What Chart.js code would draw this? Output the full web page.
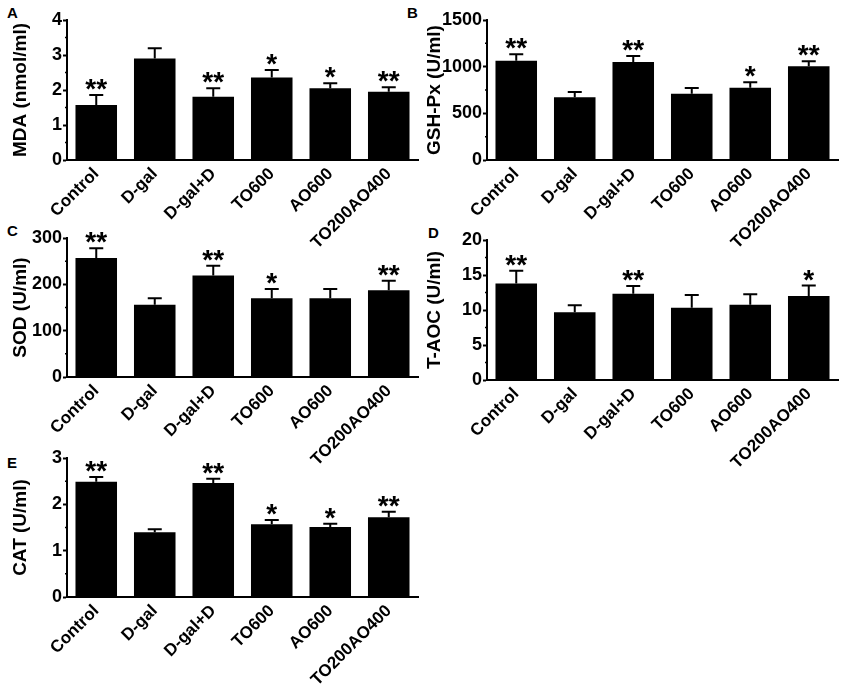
<!DOCTYPE html>
<html>
<head>
<meta charset="utf-8">
<script src="https://cdn.jsdelivr.net/npm/chart.js@4.4.1/dist/chart.umd.min.js"></script>
<style>
  body { margin: 0; background: #fff; width: 850px; height: 688px; position: relative; overflow: hidden; }
  canvas { position: absolute; }
  .lbl { position: absolute; font: bold 15px "Liberation Sans", Arial, sans-serif; color: #000; }
</style>
</head>
<body>
<div class="lbl" style="left:7px;top:4px">A</div>
<div class="lbl" style="left:407px;top:4px">B</div>
<div class="lbl" style="left:7px;top:222px">C</div>
<div class="lbl" style="left:428px;top:224px">D</div>
<div class="lbl" style="left:7px;top:454px">E</div>
<canvas id="cA"></canvas>
<canvas id="cB"></canvas>
<canvas id="cC"></canvas>
<canvas id="cD"></canvas>
<canvas id="cE"></canvas>
<script>
const GROUPS = ['Control', 'D-gal', 'D-gal+D', 'TO600', 'AO600', 'TO200AO400'];

// A: MDA
const MDA_MEAN = [1.57, 2.90, 1.81, 2.36, 2.05, 1.95];
const MDA_SEM = [0.29, 0.29, 0.24, 0.21, 0.14, 0.13];
const MDA_SIG = ['**', '', '**', '*', '*', '**'];
// B: GSH-Px
const GSH_MEAN = [1064, 672, 1050, 711, 775, 1004];
const GSH_SEM = [68, 57, 64, 60, 57, 53];
const GSH_SIG = ['**', '', '**', '', '*', '**'];
// C: SOD
const SOD_MEAN = [257, 156, 219, 170, 170, 187];
const SOD_SEM = [21, 14, 21, 20, 20, 21];
const SOD_SIG = ['**', '', '**', '*', '', '**'];
// D: T-AOC
const TAOC_MEAN = [13.8, 9.67, 12.33, 10.33, 10.76, 12.0];
const TAOC_SEM = [1.8, 1.0, 1.1, 1.8, 1.5, 1.5];
const TAOC_SIG = ['**', '', '**', '', '', '*'];
// E: CAT
const CAT_MEAN = [2.49, 1.40, 2.46, 1.57, 1.51, 1.72];
const CAT_SEM = [0.10, 0.06, 0.09, 0.09, 0.07, 0.12];
const CAT_SIG = ['**', '', '**', '*', '*', '**'];

const FONT = '"Liberation Sans", Arial, sans-serif';

// error bars (upper only) + significance stars
const errPlugin = {
  id: 'err',
  afterDatasetsDraw(chart) {
    const ctx = chart.ctx;
    const y = chart.scales.y;
    const meta = chart.getDatasetMeta(0);
    const ds = chart.data.datasets[0];
    ctx.save();
    ctx.strokeStyle = '#000';
    ctx.lineWidth = 2;
    ctx.fillStyle = '#000';
    ctx.font = 'bold 28px ' + FONT;
    ctx.textAlign = 'center';
    ctx.textBaseline = 'alphabetic';
    meta.data.forEach((bar, i) => {
      const top = y.getPixelForValue(ds.data[i] + ds.sem[i]);
      ctx.beginPath();
      ctx.moveTo(bar.x, bar.y);
      ctx.lineTo(bar.x, top);
      ctx.moveTo(bar.x - 7, top);
      ctx.lineTo(bar.x + 7, top);
      ctx.stroke();
      if (ds.sig[i]) ctx.fillText(ds.sig[i], bar.x, top + 3);
    });
    ctx.restore();
  }
};

// minor ticks halfway between the major ones
const minorPlugin = {
  id: 'minor',
  afterDraw(chart) {
    const y = chart.scales.y;
    const step = y.options.ticks.stepSize / 2;
    const ctx = chart.ctx;
    ctx.save();
    ctx.strokeStyle = '#000';
    ctx.lineWidth = 1.5;
    for (let v = step; v < y.max; v += step * 2) {
      const py = y.getPixelForValue(v);
      ctx.beginPath();
      ctx.moveTo(y.right - 2, py);
      ctx.lineTo(y.right, py);
      ctx.stroke();
    }
    ctx.restore();
  }
};

function makePanel(id, pos, mean, sem, sig, max, step, title) {
  const cv = document.getElementById(id);
  cv.width = pos.w; cv.height = pos.h;
  cv.style.left = pos.x + 'px'; cv.style.top = pos.y + 'px';
  new Chart(cv, {
    type: 'bar',
    data: {
      labels: GROUPS,
      datasets: [{
        data: mean, sem: sem, sig: sig,
        backgroundColor: '#000',
        borderWidth: 0,
        categoryPercentage: 1,
        barPercentage: 0.71
      }]
    },
    options: {
      responsive: false,
      animation: false,
      devicePixelRatio: 1,
      layout: { padding: { left: 0, top: 20, right: pos.w - pos.right, bottom: 0 } },
      plugins: { legend: { display: false }, tooltip: { enabled: false } },
      scales: {
        x: {
          grid: { display: true, drawOnChartArea: false, drawTicks: false },
          border: { display: true, color: '#000', width: 2 },
          ticks: { color: '#000', font: { family: FONT, size: 17, weight: 'bold' }, minRotation: 45, maxRotation: 45, padding: 4 },
          afterFit(s) { s.height = pos.h - 20 - pos.plotH; }
        },
        y: {
          min: 0, max: max,
          grid: { display: true, drawOnChartArea: false, color: '#000', tickLength: 4, tickWidth: 2 },
          border: { display: true, color: '#000', width: 2 },
          ticks: { stepSize: step, color: '#000', font: { family: FONT, size: 18, weight: 'bold' }, padding: 1,
                   callback: v => String(v) },
          title: { display: true, text: title, color: '#000', font: { family: FONT, size: 19, weight: 'bold' }, padding: { top: pos.tpad, bottom: 0 } },
          afterFit(s) { s.width = 67; }
        }
      }
    },
    plugins: [errPlugin, minorPlugin]
  });
}

makePanel('cA', { x: 0, y: 0, w: 425, h: 260, right: 418, plotH: 140, tpad: 9 }, MDA_MEAN, MDA_SEM, MDA_SIG, 4, 1, 'MDA (nmol/ml)');
makePanel('cB', { x: 420, y: 0, w: 430, h: 260, right: 418, plotH: 140, tpad: 3 }, GSH_MEAN, GSH_SEM, GSH_SIG, 1500, 500, 'GSH-Px (U/ml)');
makePanel('cC', { x: 0, y: 218, w: 425, h: 260, right: 418, plotH: 139, tpad: 9 }, SOD_MEAN, SOD_SEM, SOD_SIG, 300, 100, 'SOD (U/ml)');
makePanel('cD', { x: 420, y: 220, w: 430, h: 260, right: 418, plotH: 140, tpad: 3 }, TAOC_MEAN, TAOC_SEM, TAOC_SIG, 20, 5, 'T-AOC (U/ml)');
makePanel('cE', { x: 0, y: 438, w: 425, h: 250, right: 418, plotH: 139, tpad: 9 }, CAT_MEAN, CAT_SEM, CAT_SIG, 3, 1, 'CAT (U/ml)');
</script>
</body>
</html>
